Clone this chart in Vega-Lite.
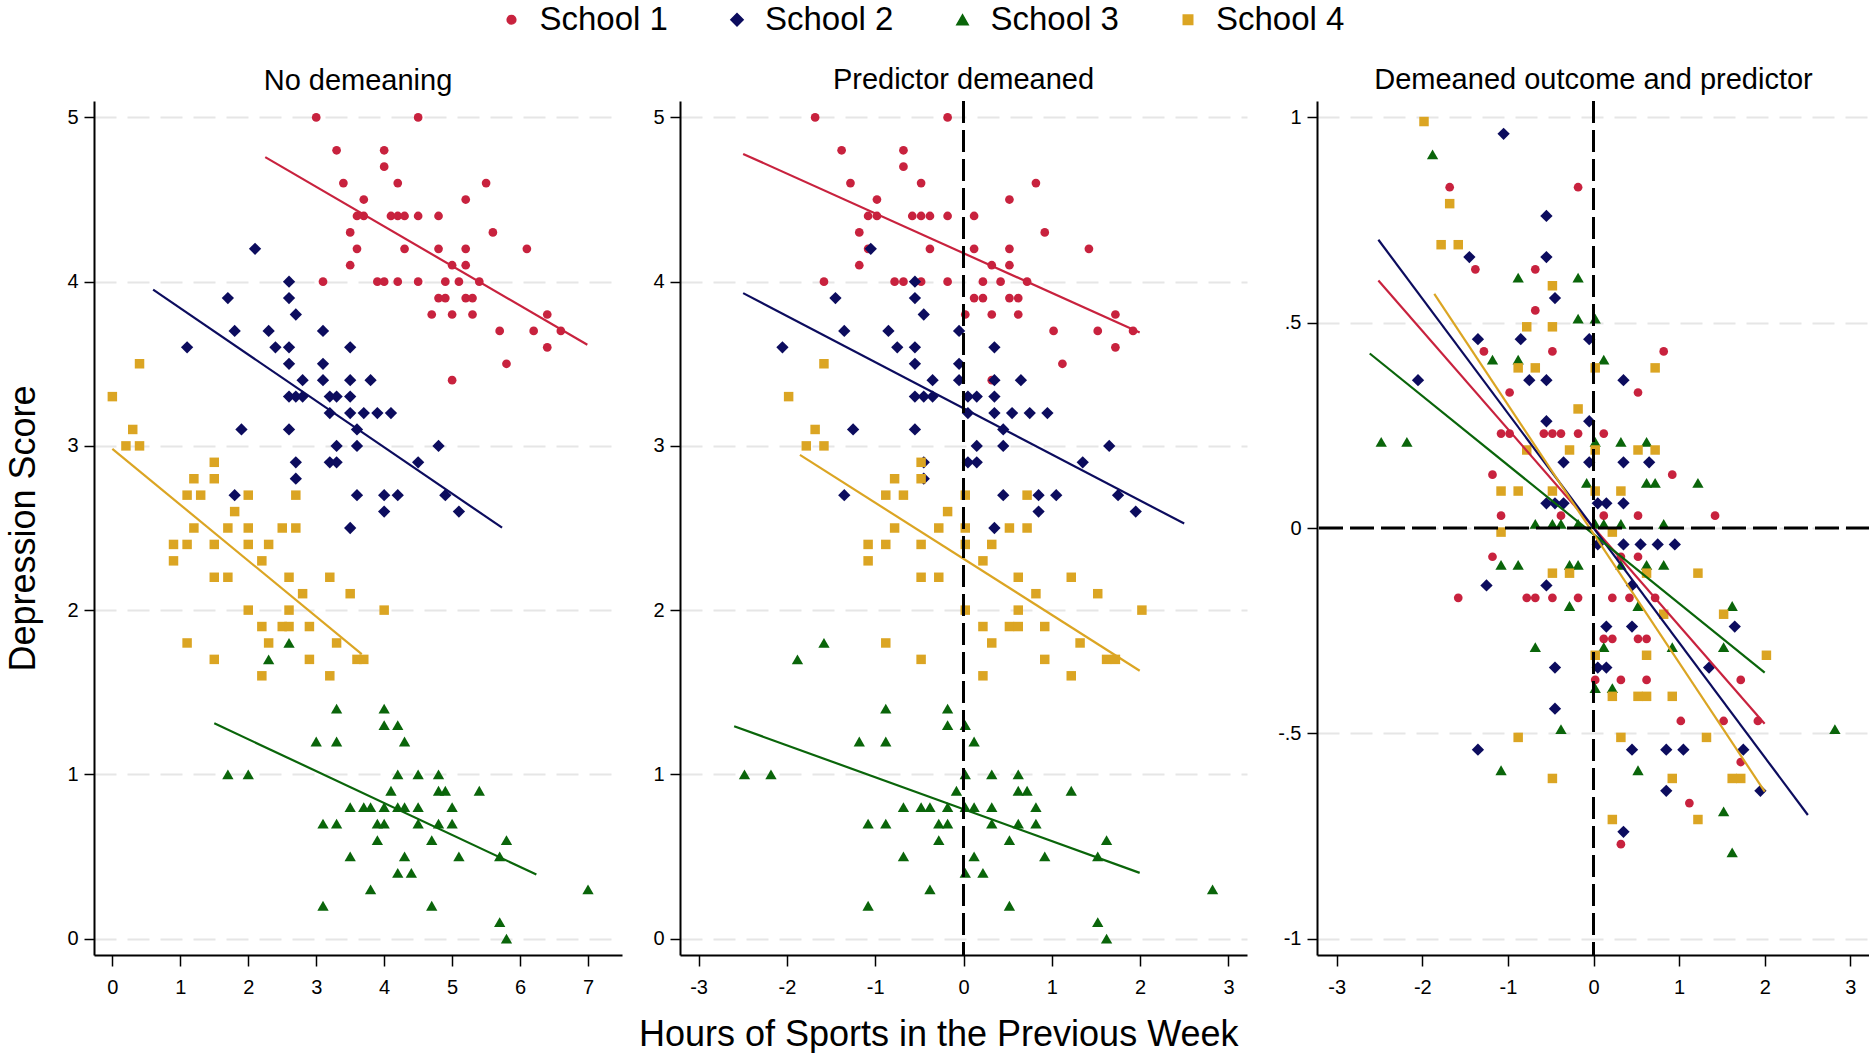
{
  "$schema": "https://vega.github.io/schema/vega-lite/v6.json",
  "background": "white",
  "padding": {"left": 5, "top": 3, "right": 0, "bottom": 0},
  "spacing": 30,
  "title": {"text": "Hours of Sports in the Previous Week", "orient": "bottom", "anchor": "middle", "font": "Liberation Sans", "fontSize": 36, "fontWeight": "normal", "color": "black", "baseline": "top", "offset": 21},
  "config": {
    "font": "Liberation Sans",
    "view": {"stroke": null},
    "axis": {"labelFont": "Liberation Sans", "labelFontSize": 20, "labelColor": "black", "domainColor": "black", "domainWidth": 2, "tickColor": "black", "tickWidth": 1.5, "tickSize": 10, "titleFont": "Liberation Sans", "titleFontWeight": "normal", "titleColor": "black"},
    "axisX": {"grid": false},
    "axisY": {"grid": true, "gridColor": "#E6E6E6", "gridDash": [22, 11], "gridWidth": 2},
    "title": {"font": "Liberation Sans", "fontSize": 29, "fontWeight": "normal", "color": "black", "baseline": "alphabetic", "offset": 5},
    "legend": {"orient": "none", "legendX": 401, "legendY": -98, "direction": "horizontal", "labelFont": "Liberation Sans", "labelFontSize": 33, "labelColor": "black", "labelOffset": 11.5, "columnPadding": 52.5, "padding": 0}
  },
  "datasets": {
    "pts": [
      {"s":"School 1","x":3.0,"y":5.0,"xd":-1.68,"yd":0.83},
      {"s":"School 1","x":3.3,"y":4.8,"xd":-1.38,"yd":0.63},
      {"s":"School 1","x":3.4,"y":4.6,"xd":-1.28,"yd":0.43},
      {"s":"School 1","x":3.7,"y":4.5,"xd":-0.98,"yd":0.33},
      {"s":"School 1","x":3.6,"y":4.4,"xd":-1.08,"yd":0.23},
      {"s":"School 1","x":3.7,"y":4.4,"xd":-0.98,"yd":0.23},
      {"s":"School 1","x":3.5,"y":4.3,"xd":-1.18,"yd":0.13},
      {"s":"School 1","x":3.6,"y":4.2,"xd":-1.08,"yd":0.03},
      {"s":"School 1","x":3.5,"y":4.1,"xd":-1.18,"yd":-0.07},
      {"s":"School 1","x":3.1,"y":4.0,"xd":-1.58,"yd":-0.17},
      {"s":"School 1","x":4.5,"y":5.0,"xd":-0.18,"yd":0.83},
      {"s":"School 1","x":4.0,"y":4.8,"xd":-0.68,"yd":0.63},
      {"s":"School 1","x":4.0,"y":4.7,"xd":-0.68,"yd":0.53},
      {"s":"School 1","x":4.2,"y":4.6,"xd":-0.48,"yd":0.43},
      {"s":"School 1","x":5.5,"y":4.6,"xd":0.82,"yd":0.43},
      {"s":"School 1","x":5.2,"y":4.5,"xd":0.52,"yd":0.33},
      {"s":"School 1","x":4.1,"y":4.4,"xd":-0.58,"yd":0.23},
      {"s":"School 1","x":4.2,"y":4.4,"xd":-0.48,"yd":0.23},
      {"s":"School 1","x":4.3,"y":4.4,"xd":-0.38,"yd":0.23},
      {"s":"School 1","x":4.5,"y":4.4,"xd":-0.18,"yd":0.23},
      {"s":"School 1","x":4.8,"y":4.4,"xd":0.12,"yd":0.23},
      {"s":"School 1","x":5.6,"y":4.3,"xd":0.92,"yd":0.13},
      {"s":"School 1","x":4.3,"y":4.2,"xd":-0.38,"yd":0.03},
      {"s":"School 1","x":4.8,"y":4.2,"xd":0.12,"yd":0.03},
      {"s":"School 1","x":5.2,"y":4.2,"xd":0.52,"yd":0.03},
      {"s":"School 1","x":6.1,"y":4.2,"xd":1.42,"yd":0.03},
      {"s":"School 1","x":5.0,"y":4.1,"xd":0.32,"yd":-0.07},
      {"s":"School 1","x":5.2,"y":4.1,"xd":0.52,"yd":-0.07},
      {"s":"School 1","x":3.9,"y":4.0,"xd":-0.78,"yd":-0.17},
      {"s":"School 1","x":4.0,"y":4.0,"xd":-0.68,"yd":-0.17},
      {"s":"School 1","x":4.2,"y":4.0,"xd":-0.48,"yd":-0.17},
      {"s":"School 1","x":4.5,"y":4.0,"xd":-0.18,"yd":-0.17},
      {"s":"School 1","x":4.9,"y":4.0,"xd":0.22,"yd":-0.17},
      {"s":"School 1","x":5.1,"y":4.0,"xd":0.42,"yd":-0.17},
      {"s":"School 1","x":5.4,"y":4.0,"xd":0.72,"yd":-0.17},
      {"s":"School 1","x":4.8,"y":3.9,"xd":0.12,"yd":-0.27},
      {"s":"School 1","x":4.9,"y":3.9,"xd":0.22,"yd":-0.27},
      {"s":"School 1","x":5.2,"y":3.9,"xd":0.52,"yd":-0.27},
      {"s":"School 1","x":5.3,"y":3.9,"xd":0.62,"yd":-0.27},
      {"s":"School 1","x":4.7,"y":3.8,"xd":0.02,"yd":-0.37},
      {"s":"School 1","x":5.0,"y":3.8,"xd":0.32,"yd":-0.37},
      {"s":"School 1","x":5.3,"y":3.8,"xd":0.62,"yd":-0.37},
      {"s":"School 1","x":6.4,"y":3.8,"xd":1.72,"yd":-0.37},
      {"s":"School 1","x":5.7,"y":3.7,"xd":1.02,"yd":-0.47},
      {"s":"School 1","x":6.2,"y":3.7,"xd":1.52,"yd":-0.47},
      {"s":"School 1","x":6.6,"y":3.7,"xd":1.92,"yd":-0.47},
      {"s":"School 1","x":6.4,"y":3.6,"xd":1.72,"yd":-0.57},
      {"s":"School 1","x":5.8,"y":3.5,"xd":1.12,"yd":-0.67},
      {"s":"School 1","x":5.0,"y":3.4,"xd":0.32,"yd":-0.77},
      {"s":"School 2","x":2.1,"y":4.2,"xd":-1.05,"yd":0.96},
      {"s":"School 2","x":2.6,"y":4.0,"xd":-0.55,"yd":0.76},
      {"s":"School 2","x":1.7,"y":3.9,"xd":-1.45,"yd":0.66},
      {"s":"School 2","x":2.6,"y":3.9,"xd":-0.55,"yd":0.66},
      {"s":"School 2","x":2.7,"y":3.8,"xd":-0.45,"yd":0.56},
      {"s":"School 2","x":1.8,"y":3.7,"xd":-1.35,"yd":0.46},
      {"s":"School 2","x":2.3,"y":3.7,"xd":-0.85,"yd":0.46},
      {"s":"School 2","x":3.1,"y":3.7,"xd":-0.05,"yd":0.46},
      {"s":"School 2","x":1.1,"y":3.6,"xd":-2.05,"yd":0.36},
      {"s":"School 2","x":2.4,"y":3.6,"xd":-0.75,"yd":0.36},
      {"s":"School 2","x":2.6,"y":3.6,"xd":-0.55,"yd":0.36},
      {"s":"School 2","x":3.5,"y":3.6,"xd":0.35,"yd":0.36},
      {"s":"School 2","x":2.6,"y":3.5,"xd":-0.55,"yd":0.26},
      {"s":"School 2","x":3.1,"y":3.5,"xd":-0.05,"yd":0.26},
      {"s":"School 2","x":2.8,"y":3.4,"xd":-0.35,"yd":0.16},
      {"s":"School 2","x":3.1,"y":3.4,"xd":-0.05,"yd":0.16},
      {"s":"School 2","x":3.5,"y":3.4,"xd":0.35,"yd":0.16},
      {"s":"School 2","x":3.8,"y":3.4,"xd":0.65,"yd":0.16},
      {"s":"School 2","x":2.6,"y":3.3,"xd":-0.55,"yd":0.06},
      {"s":"School 2","x":2.7,"y":3.3,"xd":-0.45,"yd":0.06},
      {"s":"School 2","x":2.8,"y":3.3,"xd":-0.35,"yd":0.06},
      {"s":"School 2","x":3.2,"y":3.3,"xd":0.05,"yd":0.06},
      {"s":"School 2","x":3.3,"y":3.3,"xd":0.15,"yd":0.06},
      {"s":"School 2","x":3.5,"y":3.3,"xd":0.35,"yd":0.06},
      {"s":"School 2","x":3.2,"y":3.2,"xd":0.05,"yd":-0.04},
      {"s":"School 2","x":3.5,"y":3.2,"xd":0.35,"yd":-0.04},
      {"s":"School 2","x":3.7,"y":3.2,"xd":0.55,"yd":-0.04},
      {"s":"School 2","x":3.9,"y":3.2,"xd":0.75,"yd":-0.04},
      {"s":"School 2","x":4.1,"y":3.2,"xd":0.95,"yd":-0.04},
      {"s":"School 2","x":1.9,"y":3.1,"xd":-1.25,"yd":-0.14},
      {"s":"School 2","x":2.6,"y":3.1,"xd":-0.55,"yd":-0.14},
      {"s":"School 2","x":3.6,"y":3.1,"xd":0.45,"yd":-0.14},
      {"s":"School 2","x":3.3,"y":3.0,"xd":0.15,"yd":-0.24},
      {"s":"School 2","x":3.6,"y":3.0,"xd":0.45,"yd":-0.24},
      {"s":"School 2","x":4.8,"y":3.0,"xd":1.65,"yd":-0.24},
      {"s":"School 2","x":2.7,"y":2.9,"xd":-0.45,"yd":-0.34},
      {"s":"School 2","x":3.2,"y":2.9,"xd":0.05,"yd":-0.34},
      {"s":"School 2","x":3.3,"y":2.9,"xd":0.15,"yd":-0.34},
      {"s":"School 2","x":4.5,"y":2.9,"xd":1.35,"yd":-0.34},
      {"s":"School 2","x":2.7,"y":2.8,"xd":-0.45,"yd":-0.44},
      {"s":"School 2","x":1.8,"y":2.7,"xd":-1.35,"yd":-0.54},
      {"s":"School 2","x":3.6,"y":2.7,"xd":0.45,"yd":-0.54},
      {"s":"School 2","x":4.0,"y":2.7,"xd":0.85,"yd":-0.54},
      {"s":"School 2","x":4.2,"y":2.7,"xd":1.05,"yd":-0.54},
      {"s":"School 2","x":4.9,"y":2.7,"xd":1.75,"yd":-0.54},
      {"s":"School 2","x":3.5,"y":2.5,"xd":0.35,"yd":-0.74},
      {"s":"School 2","x":4.0,"y":2.6,"xd":0.85,"yd":-0.64},
      {"s":"School 2","x":5.1,"y":2.6,"xd":1.95,"yd":-0.64},
      {"s":"School 3","x":2.3,"y":1.7,"xd":-1.88,"yd":0.91},
      {"s":"School 3","x":2.6,"y":1.8,"xd":-1.58,"yd":null},
      {"s":"School 3","x":3.3,"y":1.4,"xd":-0.88,"yd":0.61},
      {"s":"School 3","x":3.0,"y":1.2,"xd":-1.18,"yd":0.41},
      {"s":"School 3","x":3.3,"y":1.2,"xd":-0.88,"yd":0.41},
      {"s":"School 3","x":1.7,"y":1.0,"xd":-2.48,"yd":0.21},
      {"s":"School 3","x":2.0,"y":1.0,"xd":-2.18,"yd":0.21},
      {"s":"School 3","x":3.5,"y":0.8,"xd":-0.68,"yd":0.01},
      {"s":"School 3","x":3.7,"y":0.8,"xd":-0.48,"yd":0.01},
      {"s":"School 3","x":3.8,"y":0.8,"xd":-0.38,"yd":0.01},
      {"s":"School 3","x":3.1,"y":0.7,"xd":-1.08,"yd":-0.09},
      {"s":"School 3","x":3.3,"y":0.7,"xd":-0.88,"yd":-0.09},
      {"s":"School 3","x":3.5,"y":0.5,"xd":-0.68,"yd":-0.29},
      {"s":"School 3","x":3.1,"y":0.2,"xd":-1.08,"yd":-0.59},
      {"s":"School 3","x":4.0,"y":1.4,"xd":-0.18,"yd":0.61},
      {"s":"School 3","x":4.0,"y":1.3,"xd":-0.18,"yd":0.51},
      {"s":"School 3","x":4.2,"y":1.3,"xd":0.02,"yd":0.51},
      {"s":"School 3","x":4.3,"y":1.2,"xd":0.12,"yd":0.41},
      {"s":"School 3","x":4.2,"y":1.0,"xd":0.02,"yd":0.21},
      {"s":"School 3","x":4.5,"y":1.0,"xd":0.32,"yd":0.21},
      {"s":"School 3","x":4.8,"y":1.0,"xd":0.62,"yd":0.21},
      {"s":"School 3","x":4.1,"y":0.9,"xd":-0.08,"yd":0.11},
      {"s":"School 3","x":4.8,"y":0.9,"xd":0.62,"yd":0.11},
      {"s":"School 3","x":4.9,"y":0.9,"xd":0.72,"yd":0.11},
      {"s":"School 3","x":5.4,"y":0.9,"xd":1.22,"yd":0.11},
      {"s":"School 3","x":4.0,"y":0.8,"xd":-0.18,"yd":0.01},
      {"s":"School 3","x":4.2,"y":0.8,"xd":0.02,"yd":0.01},
      {"s":"School 3","x":4.3,"y":0.8,"xd":0.12,"yd":0.01},
      {"s":"School 3","x":4.5,"y":0.8,"xd":0.32,"yd":0.01},
      {"s":"School 3","x":5.0,"y":0.8,"xd":0.82,"yd":0.01},
      {"s":"School 3","x":3.9,"y":0.7,"xd":-0.28,"yd":-0.09},
      {"s":"School 3","x":4.0,"y":0.7,"xd":-0.18,"yd":-0.09},
      {"s":"School 3","x":4.5,"y":0.7,"xd":0.32,"yd":-0.09},
      {"s":"School 3","x":4.8,"y":0.7,"xd":0.62,"yd":-0.09},
      {"s":"School 3","x":5.0,"y":0.7,"xd":0.82,"yd":-0.09},
      {"s":"School 3","x":3.9,"y":0.6,"xd":-0.28,"yd":-0.19},
      {"s":"School 3","x":4.7,"y":0.6,"xd":0.52,"yd":-0.19},
      {"s":"School 3","x":5.8,"y":0.6,"xd":1.62,"yd":-0.19},
      {"s":"School 3","x":4.3,"y":0.5,"xd":0.12,"yd":-0.29},
      {"s":"School 3","x":5.1,"y":0.5,"xd":0.92,"yd":-0.29},
      {"s":"School 3","x":5.7,"y":0.5,"xd":1.52,"yd":-0.29},
      {"s":"School 3","x":4.2,"y":0.4,"xd":0.02,"yd":-0.39},
      {"s":"School 3","x":4.4,"y":0.4,"xd":0.22,"yd":-0.39},
      {"s":"School 3","x":3.8,"y":0.3,"xd":-0.38,"yd":-0.49},
      {"s":"School 3","x":7.0,"y":0.3,"xd":2.82,"yd":-0.49},
      {"s":"School 3","x":4.7,"y":0.2,"xd":0.52,"yd":-0.59},
      {"s":"School 3","x":5.7,"y":0.1,"xd":1.52,"yd":-0.69},
      {"s":"School 3","x":5.8,"y":0.0,"xd":1.62,"yd":-0.79},
      {"s":"School 4","x":0.0,"y":3.3,"xd":-1.98,"yd":0.99},
      {"s":"School 4","x":0.4,"y":3.5,"xd":-1.58,"yd":null},
      {"s":"School 4","x":0.3,"y":3.1,"xd":-1.68,"yd":0.79},
      {"s":"School 4","x":0.2,"y":3.0,"xd":-1.78,"yd":0.69},
      {"s":"School 4","x":0.4,"y":3.0,"xd":-1.58,"yd":0.69},
      {"s":"School 4","x":1.5,"y":2.9,"xd":-0.48,"yd":0.59},
      {"s":"School 4","x":1.2,"y":2.8,"xd":-0.78,"yd":0.49},
      {"s":"School 4","x":1.5,"y":2.8,"xd":-0.48,"yd":0.49},
      {"s":"School 4","x":1.1,"y":2.7,"xd":-0.88,"yd":0.39},
      {"s":"School 4","x":1.3,"y":2.7,"xd":-0.68,"yd":0.39},
      {"s":"School 4","x":2.0,"y":2.7,"xd":0.02,"yd":0.39},
      {"s":"School 4","x":2.7,"y":2.7,"xd":0.72,"yd":0.39},
      {"s":"School 4","x":1.8,"y":2.6,"xd":-0.18,"yd":0.29},
      {"s":"School 4","x":1.2,"y":2.5,"xd":-0.78,"yd":0.19},
      {"s":"School 4","x":1.7,"y":2.5,"xd":-0.28,"yd":0.19},
      {"s":"School 4","x":2.0,"y":2.5,"xd":0.02,"yd":0.19},
      {"s":"School 4","x":2.5,"y":2.5,"xd":0.52,"yd":0.19},
      {"s":"School 4","x":2.7,"y":2.5,"xd":0.72,"yd":0.19},
      {"s":"School 4","x":0.9,"y":2.4,"xd":-1.08,"yd":0.09},
      {"s":"School 4","x":1.1,"y":2.4,"xd":-0.88,"yd":0.09},
      {"s":"School 4","x":1.5,"y":2.4,"xd":-0.48,"yd":0.09},
      {"s":"School 4","x":2.0,"y":2.4,"xd":0.02,"yd":0.09},
      {"s":"School 4","x":2.3,"y":2.4,"xd":0.32,"yd":0.09},
      {"s":"School 4","x":0.9,"y":2.3,"xd":-1.08,"yd":-0.01},
      {"s":"School 4","x":2.2,"y":2.3,"xd":0.22,"yd":-0.01},
      {"s":"School 4","x":1.5,"y":2.2,"xd":-0.48,"yd":-0.11},
      {"s":"School 4","x":1.7,"y":2.2,"xd":-0.28,"yd":-0.11},
      {"s":"School 4","x":2.6,"y":2.2,"xd":0.62,"yd":-0.11},
      {"s":"School 4","x":3.2,"y":2.2,"xd":1.22,"yd":-0.11},
      {"s":"School 4","x":2.8,"y":2.1,"xd":0.82,"yd":-0.21},
      {"s":"School 4","x":3.5,"y":2.1,"xd":1.52,"yd":-0.21},
      {"s":"School 4","x":2.0,"y":2.0,"xd":0.02,"yd":-0.31},
      {"s":"School 4","x":2.6,"y":2.0,"xd":0.62,"yd":-0.31},
      {"s":"School 4","x":4.0,"y":2.0,"xd":2.02,"yd":-0.31},
      {"s":"School 4","x":2.2,"y":1.9,"xd":0.22,"yd":-0.41},
      {"s":"School 4","x":2.5,"y":1.9,"xd":0.52,"yd":-0.41},
      {"s":"School 4","x":2.6,"y":1.9,"xd":0.62,"yd":-0.41},
      {"s":"School 4","x":2.9,"y":1.9,"xd":0.92,"yd":-0.41},
      {"s":"School 4","x":1.1,"y":1.8,"xd":-0.88,"yd":-0.51},
      {"s":"School 4","x":2.3,"y":1.8,"xd":0.32,"yd":-0.51},
      {"s":"School 4","x":3.3,"y":1.8,"xd":1.32,"yd":-0.51},
      {"s":"School 4","x":1.5,"y":1.7,"xd":-0.48,"yd":-0.61},
      {"s":"School 4","x":2.9,"y":1.7,"xd":0.92,"yd":-0.61},
      {"s":"School 4","x":3.6,"y":1.7,"xd":1.62,"yd":-0.61},
      {"s":"School 4","x":3.7,"y":1.7,"xd":1.72,"yd":-0.61},
      {"s":"School 4","x":2.2,"y":1.6,"xd":0.22,"yd":-0.71},
      {"s":"School 4","x":3.2,"y":1.6,"xd":1.22,"yd":-0.71}
    ],
    "lns": [
      {"s":"School 1","p":1,"x":2.25,"y":4.758},
      {"s":"School 1","p":1,"x":6.99,"y":3.616},
      {"s":"School 2","p":1,"x":0.60,"y":3.951},
      {"s":"School 2","p":1,"x":5.735,"y":2.502},
      {"s":"School 3","p":1,"x":1.50,"y":1.311},
      {"s":"School 3","p":1,"x":6.24,"y":0.390},
      {"s":"School 4","p":1,"x":0.0,"y":2.982},
      {"s":"School 4","p":1,"x":3.67,"y":1.732},
      {"s":"School 1","p":2,"x":-2.495,"y":4.778},
      {"s":"School 1","p":2,"x":1.995,"y":3.69},
      {"s":"School 2","p":2,"x":-2.495,"y":3.93},
      {"s":"School 2","p":2,"x":2.499,"y":2.527},
      {"s":"School 3","p":2,"x":-2.597,"y":1.293},
      {"s":"School 3","p":2,"x":1.995,"y":0.40},
      {"s":"School 4","p":2,"x":-1.852,"y":2.945},
      {"s":"School 4","p":2,"x":1.995,"y":1.631},
      {"s":"School 1","p":3,"x":-2.513,"y":0.603},
      {"s":"School 1","p":3,"x":1.999,"y":-0.477},
      {"s":"School 2","p":3,"x":-2.513,"y":0.702},
      {"s":"School 2","p":3,"x":2.504,"y":-0.699},
      {"s":"School 3","p":3,"x":-2.614,"y":0.425},
      {"s":"School 3","p":3,"x":2.0,"y":-0.352},
      {"s":"School 4","p":3,"x":-1.86,"y":0.570},
      {"s":"School 4","p":3,"x":2.0,"y":-0.642}
    ]
  },
  "hconcat": [
    {
      "width": 528, "height": 854,
      "title": "No demeaning",
      "layer": [
        {
          "data": {"name": "pts"},
          "mark": {"type": "point", "filled": true, "opacity": 1, "strokeWidth": 0},
          "encoding": {
            "x": {"field": "x", "type": "quantitative", "scale": {"domain": [-0.27, 7.5], "nice": false, "zero": false}, "axis": {"values": [0,1,2,3,4,5,6,7], "title": null, "labelExpr": "'' + datum.value", "labelPadding": 11, "tickSize": 11}},
            "y": {"field": "y", "type": "quantitative", "scale": {"domain": [-0.1, 5.1], "nice": false, "zero": false}, "axis": {"values": [0,1,2,3,4,5], "title": "Depression Score", "titleFontSize": 36, "titlePadding": 24, "labelPadding": 6}},
            "color": {"field": "s", "type": "nominal", "scale": {"domain": ["School 1","School 2","School 3","School 4"], "range": ["#C8223E","#0C0C5E","#0A650A","#DBA523"]}, "legend": {"title": null}},
            "shape": {"field": "s", "type": "nominal", "scale": {"domain": ["School 1","School 2","School 3","School 4"], "range": ["circle","diamond","triangle-up","square"]}, "legend": {"title": null}},
            "size": {"field": "s", "type": "nominal", "scale": {"type": "ordinal", "domain": ["School 1","School 2","School 3","School 4"], "range": [76,151,128,90]}, "legend": {"title": null}}
          }
        },
        {
          "data": {"name": "lns"},
          "transform": [{"filter": "datum.p == 1"}],
          "mark": {"type": "line", "strokeWidth": 2.2},
          "encoding": {
            "x": {"field": "x", "type": "quantitative", "scale": {"domain": [-0.27, 7.5], "nice": false, "zero": false}, "axis": {"values": [0,1,2,3,4,5,6,7], "title": null, "labelExpr": "'' + datum.value", "labelPadding": 11, "tickSize": 11}},
            "y": {"field": "y", "type": "quantitative", "scale": {"domain": [-0.1, 5.1], "nice": false, "zero": false}, "axis": {"values": [0,1,2,3,4,5], "title": "Depression Score", "titleFontSize": 36, "titlePadding": 24, "labelPadding": 6}},
            "stroke": {"field": "s", "type": "nominal", "scale": {"domain": ["School 1","School 2","School 3","School 4"], "range": ["#C8223E","#0C0C5E","#0A650A","#DBA523"]}, "legend": null}
          }
        }
      ]
    },
    {
      "width": 567, "height": 854,
      "title": "Predictor demeaned",
      "layer": [
        {
          "data": {"name": "pts"},
          "mark": {"type": "point", "filled": true, "opacity": 1, "strokeWidth": 0},
          "encoding": {
            "x": {"field": "xd", "type": "quantitative", "scale": {"domain": [-3.21, 3.21], "nice": false, "zero": false}, "axis": {"values": [-3,-2,-1,0,1,2,3], "title": null, "labelExpr": "'' + datum.value", "labelPadding": 11, "tickSize": 11}},
            "y": {"field": "y", "type": "quantitative", "scale": {"domain": [-0.1, 5.1], "nice": false, "zero": false}, "axis": {"values": [0,1,2,3,4,5], "title": null, "labelPadding": 6}},
            "color": {"field": "s", "type": "nominal", "scale": {"domain": ["School 1","School 2","School 3","School 4"], "range": ["#C8223E","#0C0C5E","#0A650A","#DBA523"]}, "legend": {"title": null}},
            "shape": {"field": "s", "type": "nominal", "scale": {"domain": ["School 1","School 2","School 3","School 4"], "range": ["circle","diamond","triangle-up","square"]}, "legend": {"title": null}},
            "size": {"field": "s", "type": "nominal", "scale": {"type": "ordinal", "domain": ["School 1","School 2","School 3","School 4"], "range": [76,151,128,90]}, "legend": {"title": null}}
          }
        },
        {
          "data": {"name": "lns"},
          "transform": [{"filter": "datum.p == 2"}],
          "mark": {"type": "line", "strokeWidth": 2.2},
          "encoding": {
            "x": {"field": "x", "type": "quantitative", "scale": {"domain": [-3.21, 3.21], "nice": false, "zero": false}, "axis": {"values": [-3,-2,-1,0,1,2,3], "title": null, "labelExpr": "'' + datum.value", "labelPadding": 11, "tickSize": 11}},
            "y": {"field": "y", "type": "quantitative", "scale": {"domain": [-0.1, 5.1], "nice": false, "zero": false}, "axis": {"values": [0,1,2,3,4,5], "title": null, "labelPadding": 6}},
            "stroke": {"field": "s", "type": "nominal", "scale": {"domain": ["School 1","School 2","School 3","School 4"], "range": ["#C8223E","#0C0C5E","#0A650A","#DBA523"]}, "legend": null}
          }
        },
        {
          "data": {"values": [{}]},
          "mark": {"type": "rule", "color": "black", "strokeWidth": 3, "strokeDash": [22, 7]},
          "encoding": {
            "x": {"datum": 0, "type": "quantitative", "scale": {"domain": [-3.21, 3.21], "nice": false, "zero": false}, "axis": {"values": [-3,-2,-1,0,1,2,3], "title": null, "labelExpr": "'' + datum.value", "labelPadding": 11, "tickSize": 11}}
          }
        }
      ]
    },
    {
      "width": 553, "height": 854,
      "title": "Demeaned outcome and predictor",
      "layer": [
        {
          "data": {"name": "pts"},
          "mark": {"type": "point", "filled": true, "opacity": 1, "strokeWidth": 0},
          "encoding": {
            "x": {"field": "xd", "type": "quantitative", "scale": {"domain": [-3.23, 3.23], "nice": false, "zero": false}, "axis": {"values": [-3,-2,-1,0,1,2,3], "title": null, "labelExpr": "'' + datum.value", "labelPadding": 11, "tickSize": 11}},
            "y": {"field": "yd", "type": "quantitative", "scale": {"domain": [-1.04, 1.04], "nice": false, "zero": false}, "axis": {"values": [-1,-0.5,0,0.5,1], "title": null, "labelPadding": 6, "labelExpr": "datum.value == 0.5 ? '.5' : datum.value == -0.5 ? '-.5' : '' + datum.value"}},
            "color": {"field": "s", "type": "nominal", "scale": {"domain": ["School 1","School 2","School 3","School 4"], "range": ["#C8223E","#0C0C5E","#0A650A","#DBA523"]}, "legend": {"title": null}},
            "shape": {"field": "s", "type": "nominal", "scale": {"domain": ["School 1","School 2","School 3","School 4"], "range": ["circle","diamond","triangle-up","square"]}, "legend": {"title": null}},
            "size": {"field": "s", "type": "nominal", "scale": {"type": "ordinal", "domain": ["School 1","School 2","School 3","School 4"], "range": [76,151,128,90]}, "legend": {"title": null}}
          }
        },
        {
          "data": {"name": "lns"},
          "transform": [{"filter": "datum.p == 3"}],
          "mark": {"type": "line", "strokeWidth": 2.2},
          "encoding": {
            "x": {"field": "x", "type": "quantitative", "scale": {"domain": [-3.23, 3.23], "nice": false, "zero": false}, "axis": {"values": [-3,-2,-1,0,1,2,3], "title": null, "labelExpr": "'' + datum.value", "labelPadding": 11, "tickSize": 11}},
            "y": {"field": "y", "type": "quantitative", "scale": {"domain": [-1.04, 1.04], "nice": false, "zero": false}, "axis": {"values": [-1,-0.5,0,0.5,1], "title": null, "labelPadding": 6, "labelExpr": "datum.value == 0.5 ? '.5' : datum.value == -0.5 ? '-.5' : '' + datum.value"}},
            "stroke": {"field": "s", "type": "nominal", "scale": {"domain": ["School 1","School 2","School 3","School 4"], "range": ["#C8223E","#0C0C5E","#0A650A","#DBA523"]}, "legend": null}
          }
        },
        {
          "data": {"values": [{}]},
          "mark": {"type": "rule", "color": "black", "strokeWidth": 3, "strokeDash": [22, 7]},
          "encoding": {
            "x": {"datum": 0, "type": "quantitative", "scale": {"domain": [-3.23, 3.23], "nice": false, "zero": false}, "axis": {"values": [-3,-2,-1,0,1,2,3], "title": null, "labelExpr": "'' + datum.value", "labelPadding": 11, "tickSize": 11}}
          }
        },
        {
          "data": {"values": [{}]},
          "mark": {"type": "rule", "color": "black", "strokeWidth": 3, "strokeDash": [24, 7]},
          "encoding": {
            "y": {"datum": 0, "type": "quantitative", "scale": {"domain": [-1.04, 1.04], "nice": false, "zero": false}, "axis": {"values": [-1,-0.5,0,0.5,1], "title": null, "labelPadding": 6, "labelExpr": "datum.value == 0.5 ? '.5' : datum.value == -0.5 ? '-.5' : '' + datum.value"}}
          }
        }
      ]
    }
  ]
}
